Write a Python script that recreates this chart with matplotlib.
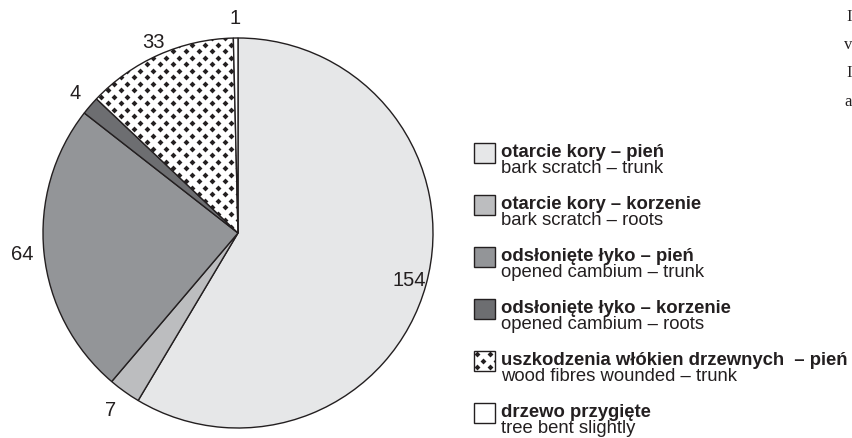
import numpy as np
import matplotlib
matplotlib.use("Agg")
from matplotlib import pyplot as plt
from matplotlib.patches import Rectangle

plt.rcParams['font.family'] = ['Liberation Sans', 'DejaVu Sans']

# data
values = [154, 7, 64, 4, 33, 1]
labels_pl = ["otarcie kory – pień", "otarcie kory – korzenie",
             "odsłonięte łyko – pień", "odsłonięte łyko – korzenie",
             "uszkodzenia włókien drzewnych  – pień", "drzewo przygięte"]
labels_en = ["bark scratch – trunk", "bark scratch – roots",
             "opened cambium – trunk", "opened cambium – roots",
             "wood fibres wounded – trunk", "tree bent slightly"]
colors = ["#e6e7e8", "#bcbdbf", "#939598", "#6d6e71", "white", "white"]
dotted = [False, False, False, False, True, False]

W, H = 853, 438
EDGE = "#231f20"
fig = plt.figure(figsize=(W / 100, H / 100), dpi=100)


def dot_grid(x0, x1, y0, y1, dx, dy):
    # staggered grid of dots used as the fill pattern
    xs, ys = [], []
    for j, y in enumerate(np.arange(y0, y1 + dy, dy)):
        off = dx / 2 if j % 2 else 0
        for x in np.arange(x0 + off, x1 + dx, dx):
            xs.append(x)
            ys.append(y)
    return np.array(xs), np.array(ys)


# pie axes: center at (238, 233) px, radius 195 px
R = 195
cx, cy = 238, 233
ax = fig.add_axes([(cx - R) / W, (H - cy - R) / H, 2 * R / W, 2 * R / H])
wedges, _ = ax.pie(values, colors=colors, startangle=90, counterclock=False,
                   radius=1.0,
                   wedgeprops=dict(edgecolor=EDGE, linewidth=1.0))
ax.set_xlim(-1, 1)
ax.set_ylim(-1, 1)
ax.set_aspect("equal")
ax.axis("off")

for w, d in zip(wedges, dotted):
    if d:
        gx, gy = dot_grid(-1, 1, -1, 1, 13 / R, 6.5 / R)
        sc = ax.scatter(gx, gy, s=9, marker="D", color=EDGE, linewidths=0,
                        zorder=w.get_zorder() + 0.1)
        sc.set_clip_path(w)

# value labels
radii = [0.91, 1.12, 1.11, 1.1, 1.07, 1.1]
for w, v, r in zip(wedges, values, radii):
    ang = np.deg2rad((w.theta1 + w.theta2) / 2)
    ax.text(r * np.cos(ang), r * np.sin(ang), str(v), ha="center",
            va="center", fontsize=14.5, color=EDGE, clip_on=False)

# legend drawn in pixel coordinates
lax = fig.add_axes([0, 0, 1, 1])
lax.set_xlim(0, W)
lax.set_ylim(H, 0)
lax.axis("off")
top0, step = 143, 52
for i, (pl, en, c, d) in enumerate(zip(labels_pl, labels_en, colors, dotted)):
    y = top0 + i * step
    box = Rectangle((474, y), 21, 20, facecolor=c, edgecolor=EDGE,
                    linewidth=1.0)
    lax.add_patch(box)
    if d:
        gx, gy = dot_grid(474, 495, y, y + 20, 13, 6.5)
        sc = lax.scatter(gx + 3, gy + 3, s=9, marker="D", color=EDGE,
                         linewidths=0, zorder=3)
        sc.set_clip_path(box)
    lax.text(501, y + 14, pl, fontsize=13.3, fontweight="bold",
             va="baseline", ha="left", color=EDGE)
    lax.text(501, y + 30, en, fontsize=13.3, va="baseline", ha="left",
             color=EDGE)

# text of the neighbouring column, only its first letters show
for yy, s in zip([17, 45, 73, 102], ["I", "v", "I", "a"]):
    lax.text(852, yy, s, fontsize=12, family="Liberation Serif", va="center",
             ha="right", color=EDGE)

fig.savefig("out.png", dpi=100)
